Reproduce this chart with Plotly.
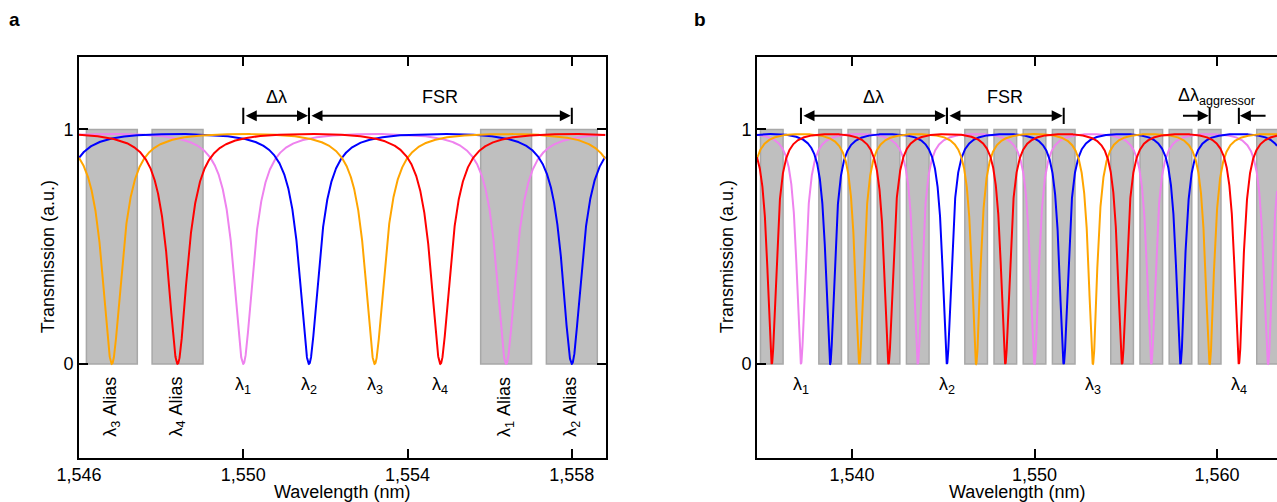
import numpy as np
import plotly.graph_objects as go
from plotly.subplots import make_subplots

# ---------------- data ----------------
ring_colors = ["violet", "blue", "orange", "red"]          # rings 1..4
ring_resonance_nm = [1550.0, 1551.6, 1553.2, 1554.8]       # one resonance of each ring
fsr_nm = 6.4                                               # free spectral range
fwhm_nm = 0.58                                             # resonance linewidth

# panel a
a_range = [1546.0, 1558.82]
a_ticks = [1546, 1550, 1554, 1558]
a_dips = [1546.8, 1548.4, 1550.0, 1551.6, 1553.2, 1554.8, 1556.4, 1558.0]
a_labels = ["λ<sub>3</sub> Alias", "λ<sub>4</sub> Alias", "λ<sub>1</sub>", "λ<sub>2</sub>",
            "λ<sub>3</sub>", "λ<sub>4</sub>", "λ<sub>1</sub> Alias", "λ<sub>2</sub> Alias"]
a_is_alias = [True, True, False, False, False, False, True, True]
a_delta = [1550.0, 1551.6]
a_fsr = [1551.6, 1558.0]

# panel b
b_range = [1534.79, 1563.29]
b_ticks = [1540, 1550, 1560]
b_channels = [1537.2, 1545.2, 1553.2, 1561.2]
b_labels = ["λ<sub>1</sub>", "λ<sub>2</sub>", "λ<sub>3</sub>", "λ<sub>4</sub>"]
b_aggressors = [1535.6, 1538.8, 1540.4, 1542.0, 1543.6, 1546.8, 1548.4, 1550.0,
                1551.6, 1554.8, 1556.4, 1558.0, 1559.6, 1562.8]
b_delta = [1537.2, 1545.2]
b_fsr = [1545.2, 1551.6]
b_aggr = [1559.6, 1561.2]
b_aggr_tails = [1558.0, 1562.8]
b_aggr_label_x = 1559.95

alias_halfwidth_nm = 0.62
y_range = [-0.399, 1.309]

FONT = "Arial, Liberation Sans, Helvetica, sans-serif"
FS = 18

# ring all-pass transmission at critical coupling
F = 1.0 / np.sin(np.pi * fwhm_nm / (2 * fsr_nm)) ** 2


def ring_T(wl, res):
    s = np.sin(np.pi * (wl - res) / fsr_nm) ** 2
    return F * s / (1 + F * s)


fig = make_subplots(rows=1, cols=2)

W, H = 1277, 502
a_dom = [79 / W, 605.5 / W]
b_dom = [757 / W, 1.0]
y_dom = [1 - 457.5 / H, 1 - 57 / H]

for col, rng in ((1, a_range), (2, b_range)):
    wl = np.linspace(rng[0], rng[1], 4000)
    for c, r in zip(ring_colors, ring_resonance_nm):
        fig.add_trace(go.Scatter(x=wl, y=ring_T(wl, r), mode="lines",
                                 line=dict(color=c, width=2), showlegend=False,
                                 hoverinfo="skip"), row=1, col=col)


def add_box(xc, xref, yref):
    fig.add_shape(type="rect", x0=xc - alias_halfwidth_nm, x1=xc + alias_halfwidth_nm,
                  y0=0, y1=1, xref=xref, yref=yref, layer="below",
                  fillcolor="#bfbfbf", line=dict(color="#a8a8a8", width=1.5))


for xc, al in zip(a_dips, a_is_alias):
    if al:
        add_box(xc, "x", "y")
for xc in b_aggressors:
    add_box(xc, "x2", "y2")

# labels under dips
for xc, lab, al in zip(a_dips, a_labels, a_is_alias):
    if al:
        fig.add_annotation(x=xc, y=-0.183, xref="x", yref="y", text=lab, showarrow=False,
                           textangle=-90, xanchor="center", yanchor="middle",
                           font=dict(family=FONT, size=FS, color="black"))
    else:
        fig.add_annotation(x=xc, y=-0.09, xref="x", yref="y", text=lab, showarrow=False,
                           xanchor="center", yanchor="middle",
                           font=dict(family=FONT, size=FS, color="black"))
for xc, lab in zip(b_channels, b_labels):
    fig.add_annotation(x=xc, y=-0.09, xref="x2", yref="y2", text=lab, showarrow=False,
                       xanchor="center", yanchor="middle",
                       font=dict(family=FONT, size=FS, color="black"))

# dimension arrows
Y_ARR = 1.058
BAR = (1.023, 1.093)
Y_TXT = 1.139


def bar(xv, xref, yref):
    fig.add_shape(type="line", x0=xv, x1=xv, y0=BAR[0], y1=BAR[1], xref=xref, yref=yref,
                  line=dict(color="black", width=2))


def arrow(x_head, x_tail, xref, yref, both=True):
    fig.add_annotation(x=x_head, y=Y_ARR, ax=x_tail, ay=Y_ARR, xref=xref, yref=yref,
                       axref=xref, ayref=yref, text="", showarrow=True, arrowhead=2,
                       arrowside="end+start" if both else "end", arrowsize=1.1,
                       arrowwidth=2, arrowcolor="black", standoff=1, startstandoff=1)


def label(xc, txt, xref, yref):
    fig.add_annotation(x=xc, y=Y_TXT, xref=xref, yref=yref, text=txt, showarrow=False,
                       xanchor="center", yanchor="middle",
                       font=dict(family=FONT, size=FS, color="black"))


for seg, txt in ((a_delta, "Δλ"), (a_fsr, "FSR")):
    arrow(seg[1], seg[0], "x", "y")
    bar(seg[0], "x", "y")
    bar(seg[1], "x", "y")
    label((seg[0] + seg[1]) / 2, txt, "x", "y")

for seg, txt in ((b_delta, "Δλ"), (b_fsr, "FSR")):
    arrow(seg[1], seg[0], "x2", "y2")
    bar(seg[0], "x2", "y2")
    bar(seg[1], "x2", "y2")
    label((seg[0] + seg[1]) / 2, txt, "x2", "y2")

arrow(b_aggr[0], b_aggr_tails[0], "x2", "y2", both=False)
arrow(b_aggr[1], b_aggr_tails[1], "x2", "y2", both=False)
bar(b_aggr[0], "x2", "y2")
bar(b_aggr[1], "x2", "y2")
label(b_aggr_label_x, "Δλ<sub>aggressor</sub>", "x2", "y2")

# axes
axis_common = dict(showgrid=False, zeroline=False, showline=True, linecolor="black",
                   linewidth=2, ticks="inside", ticklen=9, tickwidth=2, tickcolor="black",
                   automargin=False,
                   tickfont=dict(family=FONT, size=FS, color="black"))

fig.update_xaxes(axis_common, row=1, col=1, range=a_range, domain=a_dom, tickvals=a_ticks,
                 tickformat=",d", mirror="ticks")
fig.update_xaxes(axis_common, row=1, col=2, range=b_range, domain=b_dom, tickvals=b_ticks,
                 tickformat=",d", mirror="ticks")
fig.update_yaxes(axis_common, row=1, col=1, range=y_range, domain=y_dom, tickvals=[0, 1],
                 mirror="ticks")
fig.update_yaxes(axis_common, row=1, col=2, range=y_range, domain=y_dom, tickvals=[0, 1],
                 mirror=False)

# axis titles & panel letters
for xc in (sum(a_dom) / 2, sum(b_dom) / 2):
    fig.add_annotation(x=xc, y=1 - 492 / H, xref="paper", yref="paper",
                       text="Wavelength (nm)", showarrow=False,
                       xanchor="center", yanchor="middle",
                       font=dict(family=FONT, size=FS, color="black"))
for xc in (48 / W, 727 / W):
    fig.add_annotation(x=xc, y=sum(y_dom) / 2, xref="paper", yref="paper",
                       text="Transmission (a.u.)", showarrow=False, textangle=-90,
                       xanchor="center", yanchor="middle",
                       font=dict(family=FONT, size=FS, color="black"))
for xc, t in ((14 / W, "a"), (700 / W, "b")):
    fig.add_annotation(x=xc, y=1 - 20 / H, xref="paper", yref="paper", text=f"<b>{t}</b>",
                       showarrow=False, xanchor="center", yanchor="middle",
                       font=dict(family=FONT, size=19, color="black"))

fig.update_layout(width=W, height=H, margin=dict(l=0, r=0, t=0, b=0, autoexpand=False),
                  plot_bgcolor="white", paper_bgcolor="white",
                  font=dict(family=FONT, size=FS, color="black"))

fig.write_html("out.html", config={"displayModeBar": False},
               post_script="document.body.style.margin='0px';"
                           "document.body.style.overflow='hidden';")
